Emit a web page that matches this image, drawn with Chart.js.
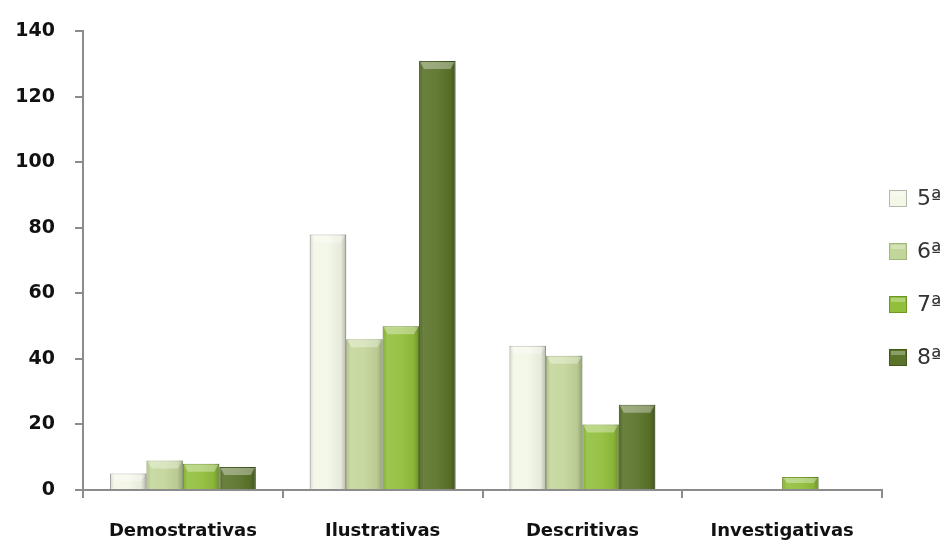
<!DOCTYPE html>
<html>
<head>
<meta charset="utf-8">
<script src="https://cdn.jsdelivr.net/npm/chart.js@4.4.1/dist/chart.umd.min.js"></script>
<style>
html,body{margin:0;padding:0;background:#fff;}
#wrap{width:951px;height:543px;position:relative;}
</style>
</head>
<body>
<div id="wrap"><canvas id="c" width="951" height="543"></canvas></div>
<script>
const categories = ["Demostrativas", "Ilustrativas", "Descritivas", "Investigativas"];
const seriesLabels = ["5ª", "6ª", "7ª", "8ª"];
const serie5 = [5, 78, 44, 0];
const serie6 = [9, 46, 41, 0];
const serie7 = [8, 50, 20, 4];
const serie8 = [7, 131, 26, 0];
const yTicks = [0, 20, 40, 60, 80, 100, 120, 140];

const fills = ["#f3f7e7", "#c3d69a", "#91bf3b", "#5a7329"];
const borders = ["#b5b8ae", "#a3b67c", "#6e9528", "#42561c"];
const values = [serie5, serie6, serie7, serie8];

// subtle bevel shading over each bar, using the bar elements the library laid out
const bevelPlugin = {
  id: 'bevel',
  afterDatasetsDraw(chart) {
    const ctx = chart.ctx;
    chart.data.datasets.forEach((ds, di) => {
      const meta = chart.getDatasetMeta(di);
      meta.data.forEach(bar => {
        const p = bar.getProps(['x', 'y', 'base', 'width'], true);
        const h = p.base - p.y;
        if (h < 1) return;
        const l = p.x - p.width / 2, r = p.x + p.width / 2;
        ctx.save();
        const g = ctx.createLinearGradient(l, 0, r, 0);
        g.addColorStop(0, 'rgba(0,0,0,0.12)');
        g.addColorStop(0.12, 'rgba(255,255,255,0.10)');
        g.addColorStop(0.5, 'rgba(255,255,255,0.06)');
        g.addColorStop(0.85, 'rgba(0,0,0,0.05)');
        g.addColorStop(1, 'rgba(0,0,0,0.25)');
        ctx.fillStyle = g;
        ctx.fillRect(l, p.y, p.width, h);
        const bh = Math.min(8, h / 2);
        ctx.beginPath();
        ctx.moveTo(l + 1, p.y + 1);
        ctx.lineTo(r - 1, p.y + 1);
        ctx.lineTo(r - 5, p.y + bh);
        ctx.lineTo(l + 5, p.y + bh);
        ctx.closePath();
        ctx.fillStyle = 'rgba(255,255,255,0.35)';
        ctx.fill();
        ctx.restore();
      });
    });
  }
};

const legendPlugin = {
  id: 'sideLegend',
  afterDraw(chart) {
    const ctx = chart.ctx;
    const ys = [198, 251, 304, 357];
    chart.data.datasets.forEach((ds, i) => {
      const y = ys[i];
      ctx.save();
      ctx.fillStyle = ds.backgroundColor;
      ctx.strokeStyle = ds.borderColor;
      ctx.lineWidth = 1;
      ctx.fillRect(889, y - 8, 18, 17);
      ctx.strokeRect(889.5, y - 7.5, 17, 16);
      ctx.fillStyle = 'rgba(255,255,255,0.3)';
      ctx.fillRect(891, y - 6, 14, 4);
      ctx.fillStyle = "#333333";
      ctx.font = "22px 'DejaVu Sans'";
      ctx.textBaseline = "middle";
      ctx.textAlign = "left";
      ctx.fillText(ds.label, 917, y + 1);
      ctx.restore();
    });
  }
};

new Chart(document.getElementById('c'), {
  type: 'bar',
  data: {
    labels: categories,
    datasets: seriesLabels.map((lab, i) => ({
      label: lab,
      data: values[i],
      backgroundColor: fills[i],
      borderColor: borders[i],
      borderWidth: 1,
      categoryPercentage: 0.73,
      barPercentage: 1.0
    }))
  },
  options: {
    responsive: false,
    animation: false,
    devicePixelRatio: 1,
    layout: { padding: { left: 0, right: 69, top: 28, bottom: 0 } },
    plugins: { legend: { display: false }, tooltip: { enabled: false } },
    scales: {
      x: {
        grid: { display: true, offset: true, drawOnChartArea: false, drawTicks: true, tickLength: 8, color: "#8c8c8c", lineWidth: 2 },
        border: { display: true, color: "#8c8c8c", width: 2 },
        ticks: { color: "#111111", font: { family: "'DejaVu Sans'", size: 18, weight: 'bold' }, padding: 23, maxRotation: 0 },
        afterFit(scale) { scale.height = 53; }
      },
      y: {
        min: 0, max: 140,
        afterBuildTicks(scale) { scale.ticks = yTicks.map(v => ({ value: v })); },
        grid: { display: true, drawOnChartArea: false, drawTicks: true, tickLength: 8, color: "#8c8c8c", lineWidth: 2 },
        border: { display: true, color: "#8c8c8c", width: 2 },
        ticks: { color: "#111111", font: { family: "'DejaVu Sans'", size: 19, weight: 'bold' }, padding: 20 },
        afterFit(scale) { scale.width = 83; }
      }
    }
  },
  plugins: [bevelPlugin, legendPlugin]
});
</script>
</body>
</html>
